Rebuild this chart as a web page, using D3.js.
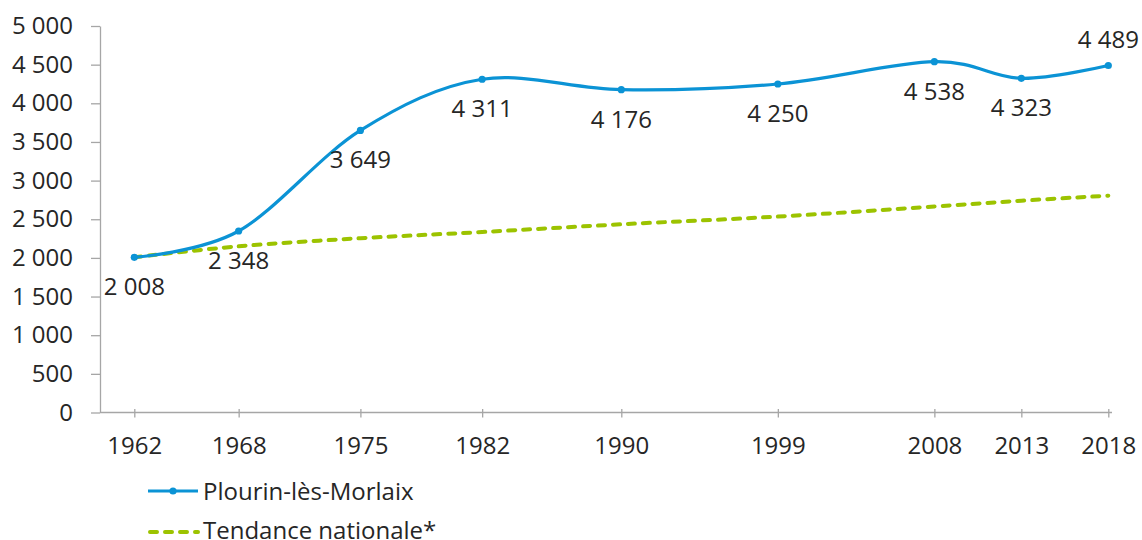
<!DOCTYPE html>
<html>
<head>
<meta charset="utf-8">
<script src="https://cdn.jsdelivr.net/npm/d3@7"></script>
<style>
  body { margin: 0; background: #fff; }
  svg text { font-family: "Open Sans", sans-serif; fill: #262626; }
</style>
</head>
<body>
<svg id="canvas" width="1142" height="540"></svg>
<script>
let years = [1962, 1968, 1975, 1982, 1990, 1999, 2008, 2013, 2018]
let population = [2008, 2348, 3649, 4311, 4176, 4250, 4538, 4323, 4489]
let tendance = [2008, 2150, 2255, 2335, 2435, 2535, 2665, 2740, 2805]
let yTicks = [0, 500, 1000, 1500, 2000, 2500, 3000, 3500, 4000, 4500, 5000]
let labelAbove = [false, false, false, false, false, false, false, false, true]

let blue = '#0b93d5'
let green = '#9cc300'
let axisColor = '#a6a6a6'

let canvas = d3.select('#canvas')

let fr = d3.formatLocale({ decimal: ',', thousands: '\u00a0', grouping: [3], currency: ['', ' €'] })
let fmt = fr.format(',d')

let xScale = d3.scaleLinear().domain([1962, 2018]).range([134.3, 1108.3])
let yScale = d3.scaleLinear().domain([0, 5000]).range([412.5, 26])

// y axis
let yAxis = d3.axisLeft(yScale)
    .tickValues(yTicks)
    .tickFormat(fmt)
    .tickSizeInner(9)
    .tickSizeOuter(0)
    .tickPadding(18)

let gy = canvas.append('g')
    .attr('transform', 'translate(100,0)')
    .call(yAxis)
gy.select('.domain').attr('stroke', axisColor).attr('stroke-width', 1.3)
gy.selectAll('.tick line').attr('stroke', axisColor).attr('stroke-width', 1.3)
gy.selectAll('.tick text')
    .attr('font-size', 24)
    .attr('font-family', '"Open Sans", sans-serif')
    .attr('fill', '#262626')

// x axis
let xAxis = d3.axisBottom(xScale)
    .tickValues(years)
    .tickFormat(d3.format('d'))
    .tickSizeOuter(0)

let gx = canvas.append('g')
    .attr('transform', 'translate(0,412.5)')
    .call(xAxis)
gx.select('.domain').remove()
gx.append('line')
    .attr('x1', 100).attr('x2', 1112)
    .attr('stroke', axisColor).attr('stroke-width', 1.3)
gx.selectAll('.tick line')
    .attr('y1', -3.5).attr('y2', 5)
    .attr('stroke', axisColor).attr('stroke-width', 1.3)
gx.selectAll('.tick text')
    .attr('y', 41).attr('dy', 0)
    .attr('font-size', 24)
    .attr('font-family', '"Open Sans", sans-serif')
    .attr('fill', '#262626')

let curve = d3.curveCardinal.tension(0)

// tendance nationale
let lineTendance = d3.line()
    .x((d, i) => xScale(years[i]))
    .y((d) => yScale(d))
    .curve(curve)

canvas.append('path')
    .datum(tendance)
    .attr('d', lineTendance)
    .attr('fill', 'none')
    .attr('stroke', green)
    .attr('stroke-width', 4)
    .attr('stroke-dasharray', '7,8')
    .attr('stroke-linecap', 'round')

// Plourin-lès-Morlaix
let linePop = d3.line()
    .x((d, i) => xScale(years[i]))
    .y((d) => yScale(d))
    .curve(curve)

canvas.append('path')
    .datum(population)
    .attr('d', linePop)
    .attr('fill', 'none')
    .attr('stroke', blue)
    .attr('stroke-width', 3.2)

canvas.selectAll('circle.pt')
    .data(population)
    .enter()
    .append('circle')
    .attr('class', 'pt')
    .attr('cx', (d, i) => xScale(years[i]))
    .attr('cy', (d) => yScale(d))
    .attr('r', 3.6)
    .attr('fill', blue)

canvas.selectAll('text.lbl')
    .data(population)
    .enter()
    .append('text')
    .attr('class', 'lbl')
    .attr('x', (d, i) => xScale(years[i]))
    .attr('y', (d, i) => yScale(d) + (labelAbove[i] ? -17.5 : 38))
    .attr('text-anchor', 'middle')
    .attr('font-size', 24)
    .text((d) => fmt(d))

// legend
let legend = canvas.append('g')
legend.append('line')
    .attr('x1', 148).attr('x2', 198).attr('y1', 491).attr('y2', 491)
    .attr('stroke', blue).attr('stroke-width', 3.2)
legend.append('circle')
    .attr('cx', 173).attr('cy', 491).attr('r', 3.6).attr('fill', blue)
legend.append('text')
    .attr('x', 203).attr('y', 499.5)
    .attr('font-size', 24)
    .text('Plourin-lès-Morlaix')

legend.append('line')
    .attr('x1', 150).attr('x2', 198).attr('y1', 532).attr('y2', 532)
    .attr('stroke', green).attr('stroke-width', 4)
    .attr('stroke-dasharray', '7,8')
    .attr('stroke-linecap', 'round')
legend.append('text')
    .attr('x', 203).attr('y', 539)
    .attr('font-size', 24)
    .text('Tendance nationale*')
</script>
</body>
</html>
